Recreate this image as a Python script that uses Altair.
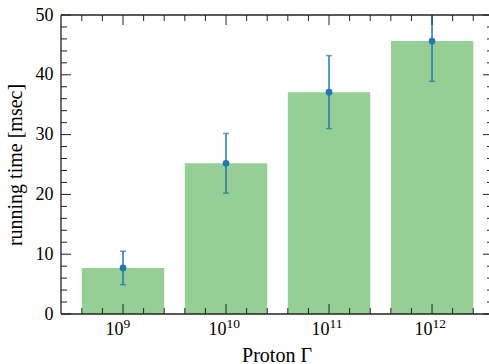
import altair as alt
import pandas as pd

# ---- data ----
positions = [0, 1, 2, 3]
gamma_base = ["10", "10", "10", "10"]
gamma_exponent = ["9", "10", "11", "12"]
running_time = [7.7, 25.2, 37.1, 45.65]
time_error = [2.8, 5.0, 6.1, 6.75]

x_major_ticks = [0, 1, 2, 3]
x_minor_ticks = [-0.4, -0.2, 0.2, 0.4, 0.6, 0.8, 1.2, 1.4, 1.6, 1.8, 2.2, 2.4,
                 2.6, 2.8, 3.2, 3.4]
y_major_ticks = [0, 10, 20, 30, 40, 50]
y_minor_ticks = [2, 4, 6, 8, 12, 14, 16, 18, 22, 24, 26, 28, 32, 34, 36, 38,
                 42, 44, 46, 48]

X_TITLE = "Proton Γ"
Y_TITLE = "running time [msec]"

# ---- layout ----
W, H = 428, 299
MAJ, MIN = 10, 6
FONT = "Liberation Serif"
BAR_COLOR = "#95cf95"
ERR_COLOR = "#1f77b4"
INK = "#222222"

df = pd.DataFrame({"pos": positions, "base": gamma_base,
                   "expo": gamma_exponent,
                   "time": running_time, "err": time_error})

xs = alt.Scale(domain=[-0.602, 3.553], nice=False, zero=False)
ys = alt.Scale(domain=[0, 50], nice=False, zero=False)

ya = alt.Axis(values=y_major_ticks, title=Y_TITLE, ticks=False, domain=False,
              grid=False, labelFlush=False, labelFont=FONT, titleFont=FONT,
              labelFontSize=18, titleFontSize=20, labelColor="black",
              titleColor="black", titleFontWeight="normal",
              labelPadding=8, titlePadding=10)


def X(f):
    return alt.X(f, scale=xs, axis=None)


def Y(f):
    return alt.Y(f, scale=ys, axis=ya)


base = alt.Chart(df).transform_calculate(
    x0="datum.pos - 0.4", x1="datum.pos + 0.4",
    lo="datum.time - datum.err", hi="datum.time + datum.err")

bars = base.mark_bar(color=BAR_COLOR).encode(
    x=X("x0:Q"), x2="x1:Q", y=Y("time:Q"), y2=alt.datum(0))

err_rule = base.mark_rule(color=ERR_COLOR, strokeWidth=1.5, clip=True).encode(
    x=X("pos:Q"), y=Y("lo:Q"), y2="hi:Q")
cap_lo = base.mark_tick(color=ERR_COLOR, orient="horizontal", size=6,
                        thickness=1.5, clip=True).encode(
    x=X("pos:Q"), y=Y("lo:Q"))
cap_hi = base.mark_tick(color=ERR_COLOR, orient="horizontal", size=6,
                        thickness=1.5, clip=True).encode(
    x=X("pos:Q"), y=Y("hi:Q"))
dots = base.mark_circle(color=ERR_COLOR, size=45, opacity=1).encode(
    x=X("pos:Q"), y=Y("time:Q"))

# x tick labels "10" with a superscript exponent
lab_base = base.mark_text(font=FONT, fontSize=18, color="black",
                          align="right", baseline="alphabetic", dx=0.5).encode(
    x=X("pos:Q"), y=alt.value(H + 21), text="base:N")
lab_expo = base.mark_text(font=FONT, fontSize=13.5, color="black",
                          align="left", baseline="alphabetic", dx=0.5).encode(
    x=X("pos:Q"), y=alt.value(H + 14.3), text="expo:N")

one = alt.Data(values=[{}])
x_title = alt.Chart(one).mark_text(
    font=FONT, fontSize=20, color="black", align="center",
    baseline="alphabetic", text=X_TITLE).encode(
    x=alt.value(W / 2 + 2), y=alt.value(H + 47.5))


def xticks(vals, length):
    c = alt.Chart(pd.DataFrame({"v": vals})).mark_rule(color=INK, strokeWidth=1)
    bottom = c.encode(x=X("v:Q"), y=alt.value(H), y2=alt.value(H - length))
    top = c.encode(x=X("v:Q"), y=alt.value(0), y2=alt.value(length))
    return [bottom, top]


def yticks(vals, length):
    c = alt.Chart(pd.DataFrame({"v": vals})).mark_rule(color=INK, strokeWidth=1)
    left = c.encode(y=Y("v:Q"), x=alt.value(0), x2=alt.value(length))
    # the right spine lies just past the picture's edge (cropped)
    right = c.encode(y=Y("v:Q"), x=alt.value(W + 4 - length), x2=alt.value(W))
    return [left, right]


spine_left = alt.Chart(one).mark_rule(color=INK, strokeWidth=1.3).encode(
    x=alt.value(0), y=alt.value(0), y2=alt.value(H))
spine_top = alt.Chart(one).mark_rule(color=INK, strokeWidth=1.3).encode(
    y=alt.value(0), x=alt.value(0), x2=alt.value(W))
spine_bottom = alt.Chart(one).mark_rule(color=INK, strokeWidth=1.3).encode(
    y=alt.value(H), x=alt.value(0), x2=alt.value(W))

layers = [bars, err_rule, cap_lo, cap_hi, dots, lab_base, lab_expo, x_title]
layers += xticks(x_major_ticks, MAJ) + xticks(x_minor_ticks, MIN)
layers += yticks(y_major_ticks, MAJ) + yticks(y_minor_ticks, MIN)
layers += [spine_left, spine_top, spine_bottom]

chart = alt.layer(*layers).properties(
    width=W, height=H,
    background="white",
    autosize=alt.AutoSizeParams(type="none"),
    padding={"left": 61, "top": 15, "right": 0, "bottom": 50},
).configure_view(stroke=None)

chart.save("out.html", embed_options={"renderer": "svg", "actions": False})
